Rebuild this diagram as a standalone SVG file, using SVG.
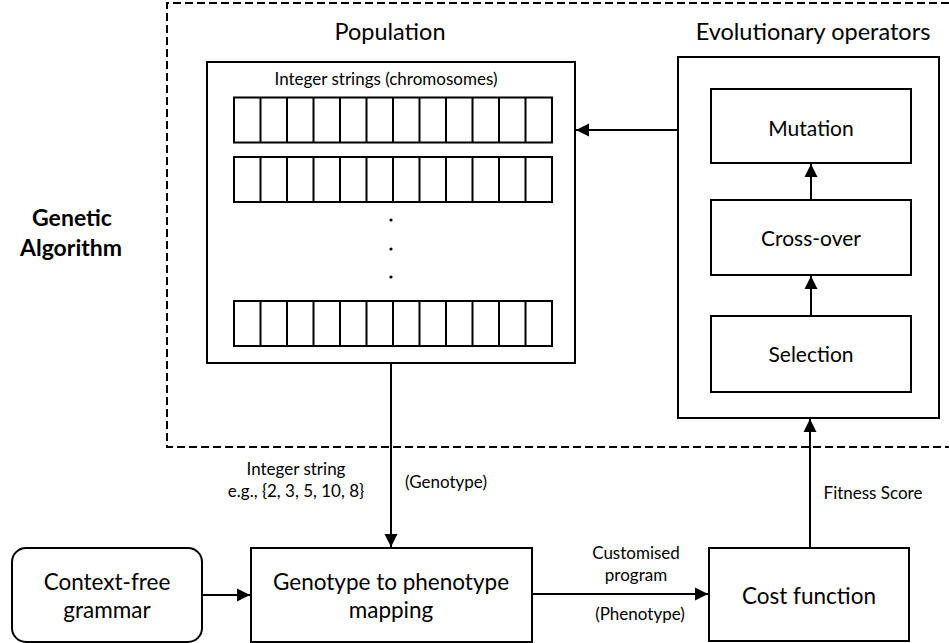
<svg xmlns="http://www.w3.org/2000/svg" width="949" height="643" viewBox="0 0 949 643">
  <style>
    text { font-family: Lato, "Open Sans", "Liberation Sans", sans-serif; fill: #000; text-anchor: middle; }
    .box { fill: #fff; stroke: #000; stroke-width: 2; }
    .cell { fill: none; stroke: #000; stroke-width: 2; }
    .conn { fill: none; stroke: #000; stroke-width: 2; }
    .dash { fill: none; stroke: #000; stroke-width: 2; stroke-dasharray: 8 4; }
    .title { font-size: 23.5px; }
    .big { font-size: 22.5px; }
    .op { font-size: 21px; }
    .small { font-size: 17px; }
    .ga { font-size: 23px; font-weight: bold; }
  </style>
  <defs>
    <marker id="arrow" markerUnits="userSpaceOnUse" markerWidth="14" markerHeight="14" refX="13" refY="7" orient="auto">
      <path d="M0,0.5 L13,7 L0,13.5 Z" fill="#000"/>
    </marker>
    <!-- one chromosome: 12 integer cells -->
    <g id="chromosome">
      <rect class="cell" x="234" y="0" width="318" height="45"/>
      <path class="cell" d="M260.5,0 V45 M287,0 V45 M313.5,0 V45 M340,0 V45 M366.5,0 V45 M393,0 V45 M419.5,0 V45 M446,0 V45 M472.5,0 V45 M499,0 V45 M525.5,0 V45"/>
    </g>
  </defs>

  <rect width="949" height="643" fill="#fff"/>

  <!-- Genetic algorithm boundary -->
  <g id="genetic-algorithm">
    <path class="dash" d="M949,3 H167 V447 H949"/>
    <text class="ga" x="72" y="226">Genetic</text>
    <text class="ga" x="71" y="256">Algorithm</text>
  </g>

  <!-- Population -->
  <g id="population">
    <text class="title" x="390" y="40">Population</text>
    <rect class="box" x="207" y="62" width="368" height="301"/>
    <text class="small" x="386" y="85">Integer strings (chromosomes)</text>
    <use href="#chromosome" y="97.5"/>
    <use href="#chromosome" y="157"/>
    <use href="#chromosome" y="301"/>
    <circle cx="391" cy="220" r="1.6" fill="#000"/>
    <circle cx="391" cy="249" r="1.6" fill="#000"/>
    <circle cx="391" cy="277" r="1.6" fill="#000"/>
  </g>

  <!-- Evolutionary operators -->
  <g id="evolutionary-operators">
    <text class="title" x="813" y="40">Evolutionary operators</text>
    <rect class="box" x="678" y="57" width="261" height="361"/>
  </g>
  <g id="mutation">
    <rect class="box" x="711" y="89" width="200" height="74"/>
    <text class="op" x="811" y="136">Mutation</text>
  </g>
  <g id="cross-over">
    <rect class="box" x="711" y="200" width="200" height="75"/>
    <text class="op" x="811" y="246">Cross-over</text>
  </g>
  <g id="selection">
    <rect class="box" x="711" y="316" width="200" height="76"/>
    <text class="op" x="811" y="362">Selection</text>
  </g>

  <!-- Bottom row -->
  <g id="grammar">
    <rect class="box" x="12" y="548" width="190" height="94" rx="14" ry="14"/>
    <text class="big" x="107" y="590">Context-free</text>
    <text class="big" x="107" y="618">grammar</text>
  </g>
  <g id="mapping">
    <rect class="box" x="251" y="548" width="281" height="94"/>
    <text class="big" x="391" y="590">Genotype to phenotype</text>
    <text class="big" x="391" y="618">mapping</text>
  </g>
  <g id="cost-function">
    <rect class="box" x="709" y="548" width="200" height="93"/>
    <text class="big" x="809" y="604">Cost function</text>
  </g>

  <!-- Connectors -->
  <g id="connectors">
    <line class="conn" x1="678" y1="130" x2="576" y2="130" marker-end="url(#arrow)"/>
    <line class="conn" x1="811" y1="316" x2="811" y2="276" marker-end="url(#arrow)"/>
    <line class="conn" x1="811" y1="200" x2="811" y2="164" marker-end="url(#arrow)"/>
    <line class="conn" x1="391" y1="363" x2="391" y2="547" marker-end="url(#arrow)"/>
    <line class="conn" x1="202" y1="595" x2="250" y2="595" marker-end="url(#arrow)"/>
    <line class="conn" x1="532" y1="594" x2="708" y2="594" marker-end="url(#arrow)"/>
    <line class="conn" x1="810" y1="548" x2="810" y2="419" marker-end="url(#arrow)"/>

    <text class="small" x="296" y="475">Integer string</text>
    <text class="small" x="296" y="497">e.g., {2, 3, 5, 10, 8}</text>
    <text class="small" x="446" y="488">(Genotype)</text>
    <text class="small" x="636" y="559">Customised</text>
    <text class="small" x="636" y="581">program</text>
    <text class="small" x="640" y="620">(Phenotype)</text>
    <text class="small" x="873" y="499">Fitness Score</text>
  </g>
</svg>
